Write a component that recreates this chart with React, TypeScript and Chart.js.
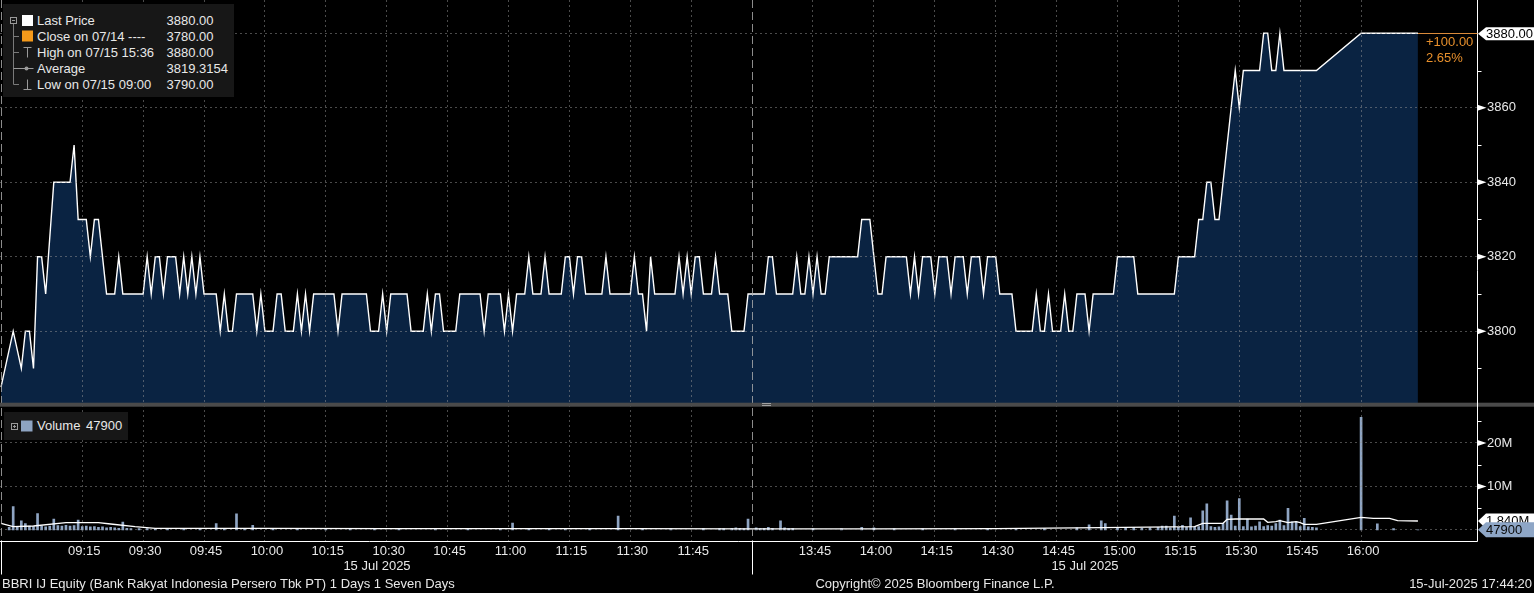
import React, { useEffect, useRef } from 'react';
import { Chart, registerables } from 'chart.js';

Chart.register(...registerables);

const W = 1534;
const H = 593;
const FONT = '"Liberation Sans", Arial, Helvetica, sans-serif';

// ---- Price (1-minute), morning session ----
const priceTimesAM = [
  '08:55', '08:58', '09:00', '09:01', '09:02', '09:03', '09:04', '09:05', '09:06', '09:08',
  '09:12', '09:13', '09:14', '09:16', '09:17', '09:18', '09:19', '09:21', '09:23', '09:24',
  '09:25', '09:30', '09:31', '09:32', '09:33', '09:34', '09:35', '09:36', '09:38', '09:39',
  '09:40', '09:41', '09:42', '09:43', '09:44', '09:45', '09:48', '09:49', '09:50', '09:51',
  '09:52', '09:53', '09:57', '09:58', '09:59', '10:00', '10:02', '10:03', '10:04', '10:05',
  '10:07', '10:08', '10:09', '10:10', '10:11', '10:12', '10:17', '10:18', '10:19', '10:25',
  '10:26', '10:28', '10:29', '10:30', '10:31', '10:35', '10:36', '10:39', '10:40', '10:41',
  '10:42', '10:43', '10:44', '10:47', '10:48', '10:53', '10:54', '10:55', '10:58', '10:59',
  '11:00', '11:01', '11:02', '11:04', '11:05', '11:06', '11:08', '11:09', '11:10', '11:13',
  '11:14', '11:15', '11:16', '11:17', '11:18', '11:19', '11:23', '11:24', '11:25', '11:30',
  '11:31', '11:32', '11:33', '11:34', '11:35', '11:36', '11:41', '11:42', '11:43', '11:44',
  '11:45', '11:46', '11:47', '11:48', '11:50', '11:51', '11:52', '11:54', '11:55', '11:58',
  '11:59',
];
const priceValuesAM = [
  3785, 3800, 3790, 3800, 3800, 3790, 3820, 3820, 3810, 3840,
  3840, 3850, 3830, 3830, 3820, 3830, 3830, 3810, 3810, 3820,
  3810, 3810, 3820, 3810, 3820, 3820, 3810, 3820, 3820, 3810,
  3820, 3810, 3820, 3810, 3820, 3810, 3810, 3800, 3810, 3800,
  3800, 3810, 3810, 3800, 3810, 3800, 3800, 3810, 3810, 3800,
  3800, 3810, 3800, 3810, 3800, 3810, 3810, 3800, 3810, 3810,
  3800, 3800, 3810, 3800, 3810, 3810, 3800, 3800, 3810, 3800,
  3810, 3810, 3800, 3800, 3810, 3810, 3800, 3810, 3810, 3800,
  3810, 3800, 3810, 3810, 3820, 3810, 3810, 3820, 3810, 3810,
  3820, 3820, 3810, 3820, 3820, 3810, 3810, 3820, 3810, 3810,
  3820, 3810, 3810, 3800, 3820, 3810, 3810, 3820, 3810, 3820,
  3810, 3820, 3820, 3810, 3810, 3820, 3810, 3810, 3800, 3800,
  3810,
];

// ---- Price (1-minute), afternoon session ----
const priceTimesPM = [
  '13:30', '13:33', '13:34', '13:35', '13:36', '13:40', '13:41', '13:42', '13:43', '13:44',
  '13:45', '13:46', '13:47', '13:48', '13:49', '13:56', '13:57', '13:59', '14:00', '14:01',
  '14:02', '14:03', '14:08', '14:09', '14:10', '14:11', '14:12', '14:14', '14:15', '14:16',
  '14:18', '14:19', '14:20', '14:22', '14:23', '14:24', '14:26', '14:27', '14:28', '14:30',
  '14:31', '14:34', '14:35', '14:39', '14:40', '14:41', '14:42', '14:43', '14:44', '14:46',
  '14:47', '14:48', '14:49', '14:50', '14:52', '14:53', '14:54', '14:59', '15:00', '15:04',
  '15:05', '15:14', '15:15', '15:19', '15:20', '15:21', '15:22', '15:23', '15:24', '15:25',
  '15:26', '15:27', '15:28', '15:29', '15:30', '15:31', '15:35', '15:36', '15:37', '15:38',
  '15:39', '15:40', '15:41', '15:49', '16:00', '16:14',
];
const priceValuesPM = [
  3810, 3810, 3820, 3820, 3810, 3810, 3820, 3810, 3810, 3820,
  3810, 3820, 3810, 3810, 3820, 3820, 3830, 3830, 3820, 3810,
  3810, 3820, 3820, 3810, 3820, 3810, 3820, 3820, 3810, 3820,
  3820, 3810, 3820, 3820, 3810, 3820, 3820, 3810, 3820, 3820,
  3810, 3810, 3800, 3800, 3810, 3800, 3800, 3810, 3800, 3800,
  3810, 3800, 3800, 3810, 3810, 3800, 3810, 3810, 3820, 3820,
  3810, 3810, 3820, 3820, 3830, 3830, 3840, 3840, 3830, 3830,
  3840, 3850, 3860, 3870, 3860, 3870, 3870, 3880, 3880, 3870,
  3870, 3880, 3870, 3870, 3880, 3880,
];

// ---- Volume bars (millions of shares) ----
const volumeTimes = [
  '08:57', '08:58', '08:59', '09:00', '09:01', '09:02', '09:03', '09:04', '09:05', '09:06',
  '09:07', '09:08', '09:09', '09:10', '09:11', '09:12', '09:13', '09:14', '09:15', '09:16',
  '09:17', '09:18', '09:19', '09:20', '09:21', '09:22', '09:23', '09:24', '09:25', '09:26',
  '09:27', '09:29', '09:31', '09:33', '09:36', '09:40', '09:44', '09:48', '09:50', '09:53',
  '09:55', '09:57', '10:02', '10:08', '10:15', '10:21', '10:27', '10:33', '10:42', '10:50',
  '10:58', '11:01', '11:05', '11:10', '11:14', '11:20', '11:27', '11:33', '11:40', '11:48',
  '11:52', '11:53', '11:55', '11:56', '11:57', '11:58', '11:59',
  '13:31', '13:32', '13:33', '13:34', '13:35', '13:37', '13:38', '13:39', '13:40', '13:45',
  '13:52', '13:57', '14:00', '14:05', '14:12', '14:20', '14:28', '14:35', '14:42', '14:50',
  '14:53', '14:56', '14:57', '15:00', '15:02', '15:04', '15:06', '15:08', '15:10', '15:11',
  '15:12', '15:13', '15:14', '15:15', '15:16', '15:17', '15:18', '15:19', '15:20', '15:21',
  '15:22', '15:23', '15:24', '15:25', '15:26', '15:27', '15:28', '15:29', '15:30', '15:31',
  '15:32', '15:33', '15:34', '15:35', '15:36', '15:37', '15:38', '15:39', '15:40', '15:41',
  '15:42', '15:43', '15:44', '15:45', '15:46', '15:47', '15:48', '15:49', '16:00', '16:04',
  '16:08', '16:14',
];
const volumeMillions = [
  0.6, 5.4, 0.8, 2.1, 1.5, 0.9, 0.8, 3.8, 0.9, 0.7,
  0.9, 2.5, 1.0, 0.9, 1.1, 0.9, 1.0, 2.3, 0.8, 0.9,
  0.7, 0.8, 0.6, 0.7, 0.5, 0.6, 0.5, 0.4, 1.8, 0.4,
  0.3, 0.3, 0.3, 0.2, 0.3, 0.2, 0.3, 1.5, 0.3, 3.7,
  0.4, 1.1, 0.3, 0.2, 0.3, 0.2, 0.3, 0.3, 0.2, 0.3,
  0.2, 1.6, 0.3, 0.4, 0.3, 0.3, 3.2, 0.3, 0.3, 0.4,
  0.3, 0.3, 0.4, 0.5, 0.4, 0.3, 2.5,
  0.5, 0.3, 0.4, 0.6, 0.4, 2.1, 0.5, 0.3, 0.4, 0.3,
  0.3, 0.6, 0.5, 0.3, 0.3, 0.4, 0.3, 0.3, 0.3, 0.5,
  1.2, 2.1, 1.5, 0.5, 0.4, 0.6, 0.4, 0.5, 0.6, 0.9,
  0.9, 0.5, 3.2, 0.6, 1.1, 0.6, 2.8, 0.7, 0.8, 4.4,
  6.0, 0.8, 0.6, 0.7, 1.5, 6.7, 3.4, 0.9, 7.2, 0.8,
  2.5, 0.7, 0.9, 1.9, 0.8, 1.0, 0.9, 1.5, 2.3, 1.0,
  5.0, 1.9, 1.9, 0.8, 2.7, 0.7, 0.6, 0.5, 25.9, 1.4,
  0.3, 0.0479,
];

// ---- Average volume line (millions) ----
const avgVolTimes = [
  '08:55', '08:58', '09:03', '09:11', '09:19', '09:22', '09:28', '09:33', '10:00', '10:30',
  '11:00', '11:30', '11:59', '13:30', '14:00', '14:30', '14:56', '15:19', '15:21', '15:26',
  '15:27', '15:29', '15:36', '15:37', '15:39', '15:40', '15:42', '15:44', '15:45', '15:46',
  '15:49', '16:00', '16:03', '16:07', '16:09', '16:14',
];
const avgVolMillions = [
  1.54, 0.77, 0.92, 1.69, 1.69, 1.38, 0.77, 0.38, 0.36, 0.33,
  0.30, 0.30, 0.25, 0.25, 0.28, 0.30, 0.54, 0.77, 1.54, 1.54,
  2.45, 2.53, 2.53, 1.76, 1.92, 2.15, 1.69, 1.92, 1.69, 1.30,
  1.30, 2.91, 2.68, 2.68, 2.15, 2.07,
];

// ---- Axes ----
const xTickLabels = [
  '09:15', '09:30', '09:45', '10:00', '10:15', '10:30', '10:45', '11:00', '11:15', '11:30', '11:45',
  '13:45', '14:00', '14:15', '14:30', '14:45', '15:00', '15:15', '15:30', '15:45', '16:00',
];
const sessionEdges = ['08:55', '12:00'];
const priceTicks = [3800, 3820, 3840, 3860, 3880];
const priceMinorTicks = [3790, 3810, 3830, 3850, 3870];
const volumeTicks = [10, 20];
const volumeMinorTicks = [5, 15, 25];

const prevClose = 3780;
const lastPrice = 3880;
const lastVolume = 0.0479;
const avgVolumeTag = 1.84;

const legendRows = [
  { label: 'Last Price', value: '3880.00' },
  { label: 'Close on 07/14 ----', value: '3780.00' },
  { label: 'High on 07/15 15:36', value: '3880.00' },
  { label: 'Average', value: '3819.3154' },
  { label: 'Low on 07/15 09:00', value: '3790.00' },
];

// minutes on a compressed session axis (lunch break removed)
function toM(t: string): number {
  const [h, mm] = t.split(':').map(Number);
  const v = h * 60 + mm;
  return v < 12 * 60 + 30 ? v - 540 : 180 + v - 810;
}

const X_MIN = -5.25;
const X_MAX = 358.55;
const GRID = 'rgba(150,150,150,0.5)';

function drawTag(ctx: any, x0: number, yc: number, h: number, bg: string, text: string, fg: string) {
  const tip = 8;
  ctx.fillStyle = bg;
  ctx.beginPath();
  ctx.moveTo(x0, yc);
  ctx.lineTo(x0 + tip, yc - h / 2);
  ctx.lineTo(W, yc - h / 2);
  ctx.lineTo(W, yc + h / 2);
  ctx.lineTo(x0 + tip, yc + h / 2);
  ctx.closePath();
  ctx.fill();
  ctx.fillStyle = fg;
  ctx.textAlign = 'left';
  ctx.textBaseline = 'middle';
  ctx.font = `13px ${FONT}`;
  ctx.fillText(text, x0 + 8, yc + 0.5);
}

const decorPlugin = {
  id: 'bbgDecor',
  afterDatasetsDraw(chart: any) {
    const { ctx, chartArea: ca, scales } = chart;
    ctx.save();
    ctx.lineWidth = 1;
    ctx.strokeStyle = 'rgba(175,175,175,0.8)';
    ctx.setLineDash([8, 4]);
    sessionEdges.forEach((t) => {
      const px = Math.round(scales.x.getPixelForValue(toM(t))) + 0.5;
      ctx.beginPath();
      ctx.moveTo(px, ca.top);
      ctx.lineTo(px, ca.bottom);
      ctx.stroke();
    });
    ctx.restore();
  },
  afterDraw(chart: any) {
    const { ctx, chartArea: ca, scales } = chart;
    const xs = scales.x;
    const ys = scales.y;
    const vs = scales.vol;
    ctx.save();
    // pane separator
    const sepY = ys.bottom;
    ctx.fillStyle = '#4a4a4a';
    ctx.fillRect(0, sepY - 2, W, 4);
    ctx.fillStyle = '#a0a0a0';
    ctx.fillRect(762, Math.round(sepY) - 2, 9, 1);
    ctx.fillRect(762, Math.round(sepY), 9, 1);

    // axis lines
    const ax = Math.round(ca.right) + 0.5;
    const by = Math.round(ca.bottom) + 0.5;
    ctx.strokeStyle = '#ffffff';
    ctx.lineWidth = 1;
    ctx.setLineDash([]);
    ctx.beginPath();
    ctx.moveTo(ax, 0);
    ctx.lineTo(ax, by);
    ctx.lineTo(0, by);
    ctx.stroke();
    sessionEdges.forEach((t) => {
      const px = Math.round(xs.getPixelForValue(toM(t))) + 0.5;
      ctx.beginPath();
      ctx.moveTo(px, by);
      ctx.lineTo(px, by + 33);
      ctx.stroke();
    });

    // tick markers
    const marks = (scale: any, major: number[], minor: number[]) => {
      ctx.fillStyle = '#ffffff';
      major.forEach((v) => {
        const py = scale.getPixelForValue(v);
        ctx.beginPath();
        ctx.moveTo(ax, py - 3);
        ctx.lineTo(ax + 9, py);
        ctx.lineTo(ax, py + 3);
        ctx.closePath();
        ctx.fill();
      });
      minor.forEach((v) => {
        const py = Math.round(scale.getPixelForValue(v)) + 0.5;
        ctx.beginPath();
        ctx.moveTo(ax, py);
        ctx.lineTo(ax + 4, py);
        ctx.stroke();
      });
    };
    marks(ys, priceTicks.filter((v) => v !== lastPrice), priceMinorTicks);
    marks(vs, volumeTicks, volumeMinorTicks);

    // last price link + tag
    const lpY = ys.getPixelForValue(lastPrice);
    const lastX = xs.getPixelForValue(toM(priceTimesPM[priceTimesPM.length - 1]));
    ctx.strokeStyle = '#d98a3a';
    ctx.beginPath();
    ctx.moveTo(lastX, Math.round(lpY) + 0.5);
    ctx.lineTo(ax, Math.round(lpY) + 0.5);
    ctx.stroke();
    drawTag(ctx, ax + 0.5, lpY + 0.5, 13, '#ffffff', lastPrice.toFixed(2), '#000000');

    ctx.fillStyle = '#e8902c';
    ctx.font = `13px ${FONT}`;
    ctx.textAlign = 'left';
    ctx.textBaseline = 'middle';
    const chg = lastPrice - prevClose;
    ctx.fillText('+' + chg.toFixed(2), 1426, lpY + 9);
    ctx.fillText(((chg / prevClose) * 100).toFixed(2) + '%', 1426, lpY + 25);

    // volume tags
    drawTag(ctx, ax + 0.5, vs.getPixelForValue(avgVolumeTag) - 1, 15, '#ffffff', avgVolumeTag.toFixed(3) + 'M', '#000000');
    drawTag(ctx, ax + 0.5, vs.getPixelForValue(lastVolume), 15, '#8ea6c6', String(Math.round(lastVolume * 1e6)), '#0a0a0a');
    ctx.restore();
  },
};

const txt: React.CSSProperties = {
  position: 'absolute',
  whiteSpace: 'nowrap',
  fontSize: 13,
  lineHeight: '16px',
  height: 16,
  color: '#e8e8e8',
};

const fitY = (s: any) => {
  s.width = 57;
  s.paddingTop = 0;
  s.paddingBottom = 0;
  s.paddingLeft = 0;
  s.paddingRight = 0;
};

export default function App() {
  const ref = useRef<HTMLCanvasElement>(null);

  useEffect(() => {
    const canvas = ref.current;
    if (!canvas) return;
    const priceData = [
      ...priceTimesAM.map((t, i) => ({ x: toM(t), y: priceValuesAM[i] })),
      ...priceTimesPM.map((t, i) => ({ x: toM(t), y: priceValuesPM[i] })),
    ];
    const volData = volumeTimes.map((t, i) => ({ x: toM(t), y: volumeMillions[i] }));
    const avgData = avgVolTimes.map((t, i) => ({ x: toM(t), y: avgVolMillions[i] }));

    const tickFont = { family: FONT, size: 13 };
    const chart = new Chart(canvas, {
      type: 'line',
      data: {
        datasets: [
          {
            type: 'line',
            label: 'Last Price',
            data: priceData,
            yAxisID: 'y',
            borderColor: '#ffffff',
            borderWidth: 1.4,
            pointRadius: 0,
            tension: 0,
            fill: 'start',
            backgroundColor: '#0a2342',
            order: 3,
          },
          {
            type: 'bar',
            label: 'Volume',
            data: volData,
            yAxisID: 'vol',
            backgroundColor: '#8ea4c2',
            barThickness: 2,
            order: 2,
          },
          {
            type: 'line',
            label: 'Average Volume',
            data: avgData,
            yAxisID: 'vol',
            borderColor: '#ffffff',
            borderWidth: 1.3,
            pointRadius: 0,
            tension: 0,
            fill: false,
            order: 1,
          },
        ],
      } as any,
      options: {
        animation: false,
        responsive: false,
        maintainAspectRatio: false,
        layout: { padding: 0, autoPadding: false },
        events: [],
        plugins: { legend: { display: false }, tooltip: { enabled: false } },
        scales: {
          x: {
            type: 'linear',
            offset: false,
            min: X_MIN,
            max: X_MAX,
            afterBuildTicks: (s: any) => {
              s.ticks = xTickLabels.map((t) => ({ value: toM(t) }));
            },
            afterFit: (s: any) => {
              s.height = 52;
              s.paddingLeft = 0;
              s.paddingRight = 0;
            },
            ticks: {
              autoSkip: false,
              maxRotation: 0,
              color: '#e8e8e8',
              font: tickFont,
              padding: 3,
              labelOffset: 2,
              callback: (v: any) => {
                const f = xTickLabels.find((t) => toM(t) === v);
                return f || '';
              },
            },
            grid: { color: GRID, lineWidth: 1, drawTicks: false, offset: false, z: 1 },
            border: { display: false, dash: [2, 3] },
          },
          y: {
            type: 'linear',
            position: 'right',
            stack: 'panes',
            stackWeight: 404.7,
            min: 3780.27,
            max: 3888.94,
            afterBuildTicks: (s: any) => {
              s.ticks = priceTicks.map((v) => ({ value: v }));
            },
            afterFit: fitY,
            ticks: {
              color: '#e8e8e8',
              font: tickFont,
              padding: 10,
              callback: (v: any) => (v === lastPrice ? '' : String(v)),
            },
            grid: { color: GRID, lineWidth: 1, drawTicks: false, z: 1 },
            border: { display: false, dash: [2, 3] },
          },
          vol: {
            type: 'linear',
            position: 'right',
            stack: 'panes',
            stackWeight: 136.3,
            min: -2.53,
            max: 28.8,
            afterBuildTicks: (s: any) => {
              s.ticks = [lastVolume, ...volumeTicks].map((v) => ({ value: v }));
            },
            afterFit: fitY,
            ticks: {
              color: '#e8e8e8',
              font: tickFont,
              padding: 10,
              callback: (v: any) => (v === lastVolume ? '' : v + 'M'),
            },
            grid: { color: GRID, lineWidth: 1, drawTicks: false, z: 1 },
            border: { display: false, dash: [2, 3] },
          },
        },
      } as any,
      plugins: [decorPlugin as any],
    });
    return () => chart.destroy();
  }, []);

  const rowY = (i: number) => 20.5 + 16 * i;

  return (
    <div
      style={{
        position: 'absolute',
        left: 0,
        top: 0,
        width: W,
        height: H,
        background: '#000',
        overflow: 'hidden',
        fontFamily: FONT,
      }}
    >
      <canvas ref={ref} width={W} height={H} style={{ position: 'absolute', left: 0, top: 0, width: W, height: H }} />

      {/* price legend */}
      <div style={{ position: 'absolute', left: 3, top: 4, width: 231, height: 93, background: '#171717' }} />
      <svg width={240} height={100} style={{ position: 'absolute', left: 0, top: 0 }}>
        <rect x={10.5} y={17.5} width={6} height={6} fill="none" stroke="#9a9a9a" strokeWidth={1} />
        <line x1={12} y1={20.5} x2={15} y2={20.5} stroke="#9a9a9a" />
        <line x1={13.5} y1={24} x2={13.5} y2={84.5} stroke="#7a7a7a" />
        <line x1={13.5} y1={36.5} x2={19} y2={36.5} stroke="#7a7a7a" />
        <line x1={13.5} y1={52.5} x2={19} y2={52.5} stroke="#7a7a7a" />
        <line x1={13.5} y1={84.5} x2={19} y2={84.5} stroke="#7a7a7a" />
        <rect x={22} y={15} width={11} height={11} fill="#ffffff" />
        <rect x={22} y={30.5} width={11} height={11} fill="#f59a1b" />
        <line x1={23.5} y1={47.5} x2={31.5} y2={47.5} stroke="#9a9a9a" />
        <line x1={27.5} y1={47.5} x2={27.5} y2={57.5} stroke="#9a9a9a" />
        <line x1={13.5} y1={68.5} x2={33.5} y2={68.5} stroke="#9a9a9a" />
        <circle cx={26.5} cy={68.5} r={2} fill="#9a9a9a" />
        <line x1={27.5} y1={79.5} x2={27.5} y2={89.5} stroke="#9a9a9a" />
        <line x1={23.5} y1={89.5} x2={31.5} y2={89.5} stroke="#9a9a9a" />
      </svg>
      {legendRows.map((r, i) => (
        <React.Fragment key={r.label}>
          <div style={{ ...txt, left: 37, top: rowY(i) - 8 }}>{r.label}</div>
          <div style={{ ...txt, left: 166.5, top: rowY(i) - 8 }}>{r.value}</div>
        </React.Fragment>
      ))}

      {/* volume legend */}
      <div style={{ position: 'absolute', left: 4, top: 412, width: 124, height: 28, background: '#171717' }} />
      <svg width={40} height={30} style={{ position: 'absolute', left: 0, top: 411 }}>
        <rect x={11.5} y={12.5} width={6} height={6} fill="none" stroke="#9a9a9a" strokeWidth={1} />
        <line x1={13} y1={15.5} x2={16} y2={15.5} stroke="#9a9a9a" />
        <line x1={14.5} y1={14} x2={14.5} y2={17} stroke="#9a9a9a" />
        <rect x={21} y={9.5} width={11.5} height={11} fill="#8ea4c2" />
      </svg>
      <div style={{ ...txt, left: 37, top: 418 }}>Volume</div>
      <div style={{ ...txt, left: 86, top: 418 }}>{String(Math.round(lastVolume * 1e6))}</div>

      {/* session dates */}
      <div style={{ ...txt, left: 377, top: 558, transform: 'translateX(-50%)' }}>15 Jul 2025</div>
      <div style={{ ...txt, left: 1085, top: 558, transform: 'translateX(-50%)' }}>15 Jul 2025</div>

      {/* footer */}
      <div style={{ ...txt, left: 2, top: 576 }}>
        BBRI IJ Equity (Bank Rakyat Indonesia Persero Tbk PT) 1 Days 1 Seven Days
      </div>
      <div style={{ ...txt, left: 935, top: 576, transform: 'translateX(-50%)' }}>
        Copyright© 2025 Bloomberg Finance L.P.
      </div>
      <div style={{ ...txt, right: 2, top: 576 }}>15-Jul-2025 17:44:20</div>
    </div>
  );
}
